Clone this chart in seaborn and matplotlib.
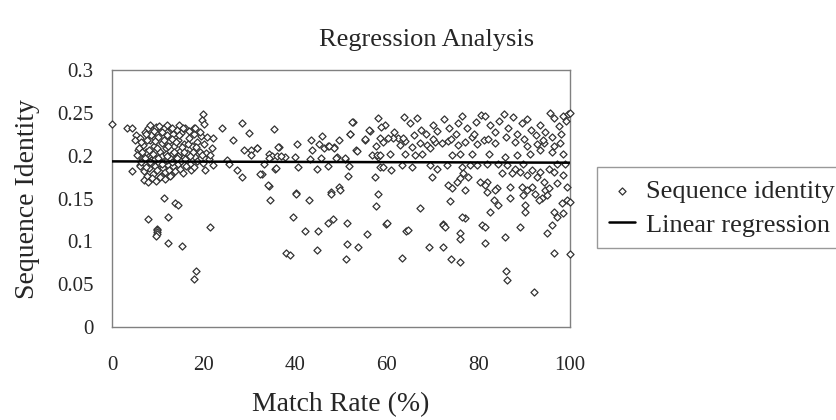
import numpy as np
import pandas as pd
import matplotlib
matplotlib.use("Agg")
import matplotlib.pyplot as plt
import seaborn as sns

# ==== datos ====
# nube densa a la izquierda (match rate 0-22)
x_cluster = [0, 3.2, 4.4, 5.2, 5.1, 5.6, 4.4, 6.0,
             6.2, 6.8, 7.1, 7.4, 7.9, 8.3, 8.6, 8.8, 9.2, 9.5, 9.7, 10.1, 10.4, 10.6, 10.9, 11.2,
             11.4, 11.7, 12.0, 12.3, 12.5, 12.8, 13.1, 13.4, 13.6, 13.9, 14.2, 14.5, 14.8, 15.1,
             15.4, 15.7, 16.0, 16.3, 16.7, 17.0, 17.4, 17.8, 18.2, 18.6, 19.1, 19.5,
             6.0, 6.5, 7.0, 7.3, 7.7, 8.1, 8.4, 8.9, 9.3, 9.8, 10.2, 10.7, 11.1, 11.5, 11.9, 12.4,
             12.9, 13.3, 13.8, 14.3, 14.9, 15.6, 16.2, 17.2, 18.0,
             5.4, 5.9, 6.3, 6.6, 7.2, 7.6, 8.0, 8.5, 9.0, 9.4, 9.9, 10.3, 10.8, 11.3, 11.8, 12.2,
             12.7, 13.0, 13.5, 14.0, 14.4, 14.7, 15.2, 15.8, 16.5, 17.6, 18.4,
             6.9, 7.8, 8.7, 9.6, 10.5, 11.6, 12.6,
             7.5, 8.2, 9.1, 11.0, 12.1, 13.2, 14.6, 15.5, 16.8, 17.9,
             6.4, 7.4, 8.3, 9.4, 10.0, 11.0, 12.0, 13.0, 14.1, 15.0, 16.0, 17.0, 18.5,
             20.0, 20.5, 21.2, 21.8, 19.8, 22.0]
y_cluster = [0.237, 0.232, 0.232, 0.224, 0.218, 0.207, 0.182, 0.189,
             0.221, 0.213, 0.228, 0.205, 0.232, 0.218, 0.199, 0.226, 0.211, 0.234, 0.193, 0.222, 0.204, 0.229, 0.215, 0.197,
             0.233, 0.209, 0.224, 0.189, 0.217, 0.231, 0.202, 0.226, 0.212, 0.194, 0.230, 0.219, 0.206, 0.227,
             0.198, 0.214, 0.232, 0.203, 0.221, 0.191, 0.211, 0.226, 0.199, 0.216, 0.205, 0.223,
             0.188, 0.196, 0.182, 0.191, 0.176, 0.186, 0.195, 0.179, 0.188, 0.183, 0.192, 0.177, 0.186, 0.181, 0.195, 0.184,
             0.178, 0.188, 0.182, 0.190, 0.185, 0.180, 0.188, 0.183, 0.187,
             0.201, 0.209, 0.216, 0.204, 0.198, 0.219, 0.207, 0.224, 0.202, 0.217, 0.209, 0.235, 0.200, 0.219, 0.202, 0.212,
             0.198, 0.220, 0.205, 0.216, 0.200, 0.224, 0.210, 0.205, 0.214, 0.204, 0.210,
             0.172, 0.170, 0.174, 0.171, 0.175, 0.173, 0.176,
             0.226, 0.236, 0.229, 0.228, 0.236, 0.233, 0.236, 0.233, 0.229, 0.232,
             0.193, 0.187, 0.193, 0.196, 0.198, 0.191, 0.200, 0.193, 0.197, 0.194, 0.196, 0.200, 0.194,
             0.214, 0.203, 0.196, 0.209, 0.192, 0.189]

# puntos sueltos entre 18 y 32
x_mid_left = [19.8, 19.6, 20.1, 24.1, 28.4, 29.8, 26.5, 20.7, 22.1, 19.2, 18.1, 30.3, 31.6, 28.9,
              30.3, 25.0, 25.6, 27.2, 28.3, 20.3, 21.4, 19.6]
y_mid_left = [0.249, 0.242, 0.237, 0.233, 0.238, 0.227, 0.219, 0.222, 0.221, 0.228, 0.232, 0.207, 0.209, 0.207,
              0.201, 0.195, 0.190, 0.183, 0.175, 0.183, 0.201, 0.201]

# valores bajos del lado izquierdo
x_low_left = [11.4, 13.8, 14.5, 7.8, 12.2, 9.8, 9.8, 9.8, 9.9, 9.7, 12.2, 15.2, 21.4, 18.3, 18.0]
y_low_left = [0.151, 0.145, 0.143, 0.126, 0.129, 0.115, 0.113, 0.111, 0.109, 0.107, 0.098, 0.095, 0.117, 0.066, 0.056]

# zona central 32-60
x_center = [35.4, 40.3, 43.4, 45.9, 49.6, 52.6, 52.0, 58.0, 56.3, 55.3, 53.3, 34.2, 36.4, 37.8, 40.0,
            43.6, 45.1, 46.2, 47.2, 48.5, 43.2, 45.7, 49.0, 50.9, 35.6, 40.7, 44.7, 47.2, 51.8, 32.8,
            57.4, 58.1, 58.5, 51.6, 34.2, 49.6, 31.6, 36.3, 35.0, 36.1, 36.8, 33.2, 34.3, 32.4, 35.7,
            34.1, 40.1, 52.4, 51.9, 56.2, 55.3, 57.6, 53.4, 56.8, 57.8, 48.9, 50.9, 47.3, 48.5, 47.8]
y_center = [0.231, 0.214, 0.218, 0.223, 0.218, 0.239, 0.226, 0.244, 0.229, 0.219, 0.207, 0.202, 0.210, 0.199, 0.199,
            0.207, 0.214, 0.209, 0.211, 0.210, 0.196, 0.197, 0.199, 0.196, 0.185, 0.187, 0.185, 0.188, 0.188, 0.179,
            0.175, 0.199, 0.187, 0.177, 0.165, 0.164, 0.209, 0.210, 0.200, 0.200, 0.200, 0.191, 0.197, 0.179, 0.186,
            0.166, 0.157, 0.240, 0.226, 0.230, 0.220, 0.212, 0.206, 0.201, 0.201, 0.197, 0.197, 0.212, 0.209, 0.158]

x_center_low = [34.4, 40.2, 43.1, 47.8, 49.8, 58.1, 57.6, 39.4, 42.1, 45.0, 47.1, 48.3, 51.3, 59.8,
                55.7, 51.3, 53.8, 44.8, 51.0, 38.0, 38.9, 64.2, 63.3]
y_center_low = [0.148, 0.155, 0.149, 0.156, 0.160, 0.155, 0.141, 0.129, 0.112, 0.112, 0.122, 0.126, 0.122, 0.121,
                0.109, 0.097, 0.093, 0.090, 0.079, 0.086, 0.084, 0.112, 0.081]

# lado derecho 58-100
x_right = [59.2, 62.9, 64.0, 65.4, 67.2, 68.7, 70.5, 72.0, 73.4, 75.6, 77.1, 79.6, 81.1, 83.6, 88.0,
           90.5, 92.7, 94.2, 96.4, 97.8,
           58.5, 60.7, 64.0, 66.1, 67.6, 69.4, 74.2, 76.0, 78.5, 82.2, 85.8, 88.3, 91.3, 96.0, 98.5, 93.4,
           59.2, 61.0, 63.2, 65.4, 69.4, 70.9, 73.1, 76.3, 78.2, 79.6, 81.8, 84.3, 86.2, 88.0, 89.8,
           91.6, 93.4, 95.3, 97.1, 98.9,
           69.8, 76.7, 77.8, 85.1, 87.3, 89.1, 90.5, 92.7, 96.4, 98.5, 76.0, 81.8, 94.2, 75.2, 80.3,
           73.4, 74.2, 77.1, 81.4, 84.0, 86.9, 89.4, 90.5, 91.6, 94.5, 97.1, 99.3, 81.8, 83.6, 92.4, 95.3,
           73.8, 83.3, 86.9, 89.8, 93.8, 98.2, 99.3, 100.0, 84.3, 90.2, 94.9, 93.1,
           67.2, 82.5, 90.2, 96.4, 98.5, 77.1, 76.3, 97.1, 72.3,
           60.0, 64.7, 72.3, 72.7, 76.0, 80.7, 81.4, 89.1, 96.0, 94.9,
           76.0, 85.8, 81.4, 69.1, 72.3]
y_right = [0.216, 0.2125, 0.2175, 0.2105, 0.2144, 0.2125, 0.216, 0.2152, 0.2175, 0.2125, 0.216, 0.2136, 0.218, 0.2144, 0.216,
           0.2113, 0.2136, 0.2152, 0.2113, 0.2144,
           0.2008, 0.2027, 0.2027, 0.2008, 0.2027, 0.2086, 0.2008, 0.2027, 0.2027, 0.2027, 0.1988, 0.2008, 0.2027, 0.2047, 0.2027, 0.2066,
           0.1872, 0.1833, 0.1891, 0.1872, 0.1891, 0.1852, 0.1891, 0.1872, 0.1891, 0.1891, 0.1910, 0.1910, 0.1891, 0.1852, 0.1910,
           0.1833, 0.1813, 0.1852, 0.1910, 0.1910,
           0.1755, 0.1794, 0.1755, 0.1794, 0.1794, 0.1813, 0.1774, 0.1755, 0.1813, 0.1774, 0.1736, 0.1697, 0.1697, 0.1697, 0.1697,
           0.1658, 0.1619, 0.1599, 0.1658, 0.1619, 0.1638, 0.1638, 0.1600, 0.1638, 0.1600, 0.1677, 0.1638, 0.1580, 0.1600, 0.1560, 0.1619,
           0.1475, 0.1483, 0.1502, 0.1541, 0.1502, 0.1444, 0.1483, 0.1463, 0.1425, 0.1425, 0.1541, 0.1483,
           0.1386, 0.1347, 0.1347, 0.1347, 0.1327, 0.1269, 0.1288, 0.1288, 0.1210,
           0.1218, 0.1133, 0.1191, 0.1172, 0.1094, 0.1191, 0.1164, 0.1164, 0.1191, 0.1094,
           0.1030, 0.1055, 0.0977, 0.0931, 0.0939]

x_right_top = [59.5, 58.7, 61.6, 63.8, 62.4, 63.5, 61.3, 60.2, 58.4, 65.0, 66.5, 67.5, 68.5, 70.0, 71.0,
               72.5, 73.5, 75.0, 75.5, 76.5, 77.5, 78.5, 79.5, 80.5, 81.5, 82.5, 83.5, 84.5, 85.5, 86.5,
               87.5, 88.5, 89.5, 90.5, 91.5, 92.5, 93.5, 94.5, 95.5, 96.5, 97.5, 98.5, 99.2, 99.6, 100.0,
               98.0, 96.0, 94.0, 90.0, 86.0, 82.0, 79.0, 74.0, 70.0, 66.0]
y_right_top = [0.236, 0.234, 0.228, 0.245, 0.221, 0.221, 0.221, 0.221, 0.221, 0.238, 0.244, 0.230, 0.225, 0.236, 0.229,
               0.243, 0.233, 0.226, 0.238, 0.247, 0.233, 0.222, 0.240, 0.248, 0.246, 0.236, 0.228, 0.241, 0.249, 0.232,
               0.245, 0.226, 0.238, 0.243, 0.230, 0.224, 0.236, 0.228, 0.250, 0.244, 0.235, 0.247, 0.241, 0.249, 0.250,
               0.225, 0.222, 0.219, 0.220, 0.222, 0.220, 0.225, 0.220, 0.220, 0.224]

x_right_low = [74.0, 76.0, 86.0, 86.3, 92.0, 100.0, 96.5]
y_right_low = [0.080, 0.076, 0.066, 0.055, 0.041, 0.085, 0.086]

# recta de regresion (casi horizontal)
reg_x = [0, 100]
reg_y = [0.1935, 0.1920]

x_ticks = [0, 20, 40, 60, 80, 100]
y_ticks = [0, 0.05, 0.1, 0.15, 0.2, 0.25, 0.3]
y_tick_labels = ["0", "0.05", "0.1", "0.15", "0.2", "0.25", "0.3"]

df = pd.DataFrame({
    "rate": x_cluster + x_mid_left + x_low_left + x_center + x_center_low + x_right + x_right_top + x_right_low,
    "ident": y_cluster + y_mid_left + y_low_left + y_center + y_center_low + y_right + y_right_top + y_right_low,
})

sns.set_style("white")
plt.rcParams['font.family'] = ['Liberation Serif', 'DejaVu Serif']

fig = plt.figure(figsize=(8.36, 4.2), dpi=100)
ax = fig.add_axes([0.134, 0.221, 0.548, 0.612])

sns.scatterplot(data=df, x="rate", y="ident", marker="D", s=13, facecolor="white",
                edgecolor="#333333", linewidth=0.9, label="Sequence identity", ax=ax, clip_on=False, zorder=3)
sns.lineplot(x=reg_x, y=reg_y, color="black", linewidth=1.8, label="Linear regression", ax=ax, zorder=4)

ax.set_xlim(0, 100)
ax.set_ylim(0, 0.3)
ax.set_xticks(x_ticks)
ax.set_yticks(y_ticks)
ax.set_yticklabels(y_tick_labels)
ax.tick_params(direction="in", length=5, width=1, color="#808080", labelsize=15)
ax.tick_params(axis="x", pad=21)
ax.tick_params(axis="y", pad=13.5)
for sp in ax.spines.values():
    sp.set_color("#808080")
    sp.set_linewidth(1)

ax.set_xlabel("Match Rate (%)", fontsize=20, labelpad=12)
ax.set_ylabel("Sequence Identity", fontsize=20, labelpad=12)
fig.text(0.51, 0.905, "Regression Analysis", ha="center", va="center", fontsize=19)

leg = ax.legend(loc="upper left", bbox_to_anchor=(0.714, 0.602), bbox_transform=fig.transFigure,
                fontsize=19, frameon=True, fancybox=False, edgecolor="#808080", borderaxespad=0,
                handlelength=1.0, handletextpad=0.4, borderpad=0.45, labelspacing=0.4, markerscale=1.0)
leg.get_frame().set_linewidth(1)

plt.savefig("out.png", dpi=100)
plt.close()
